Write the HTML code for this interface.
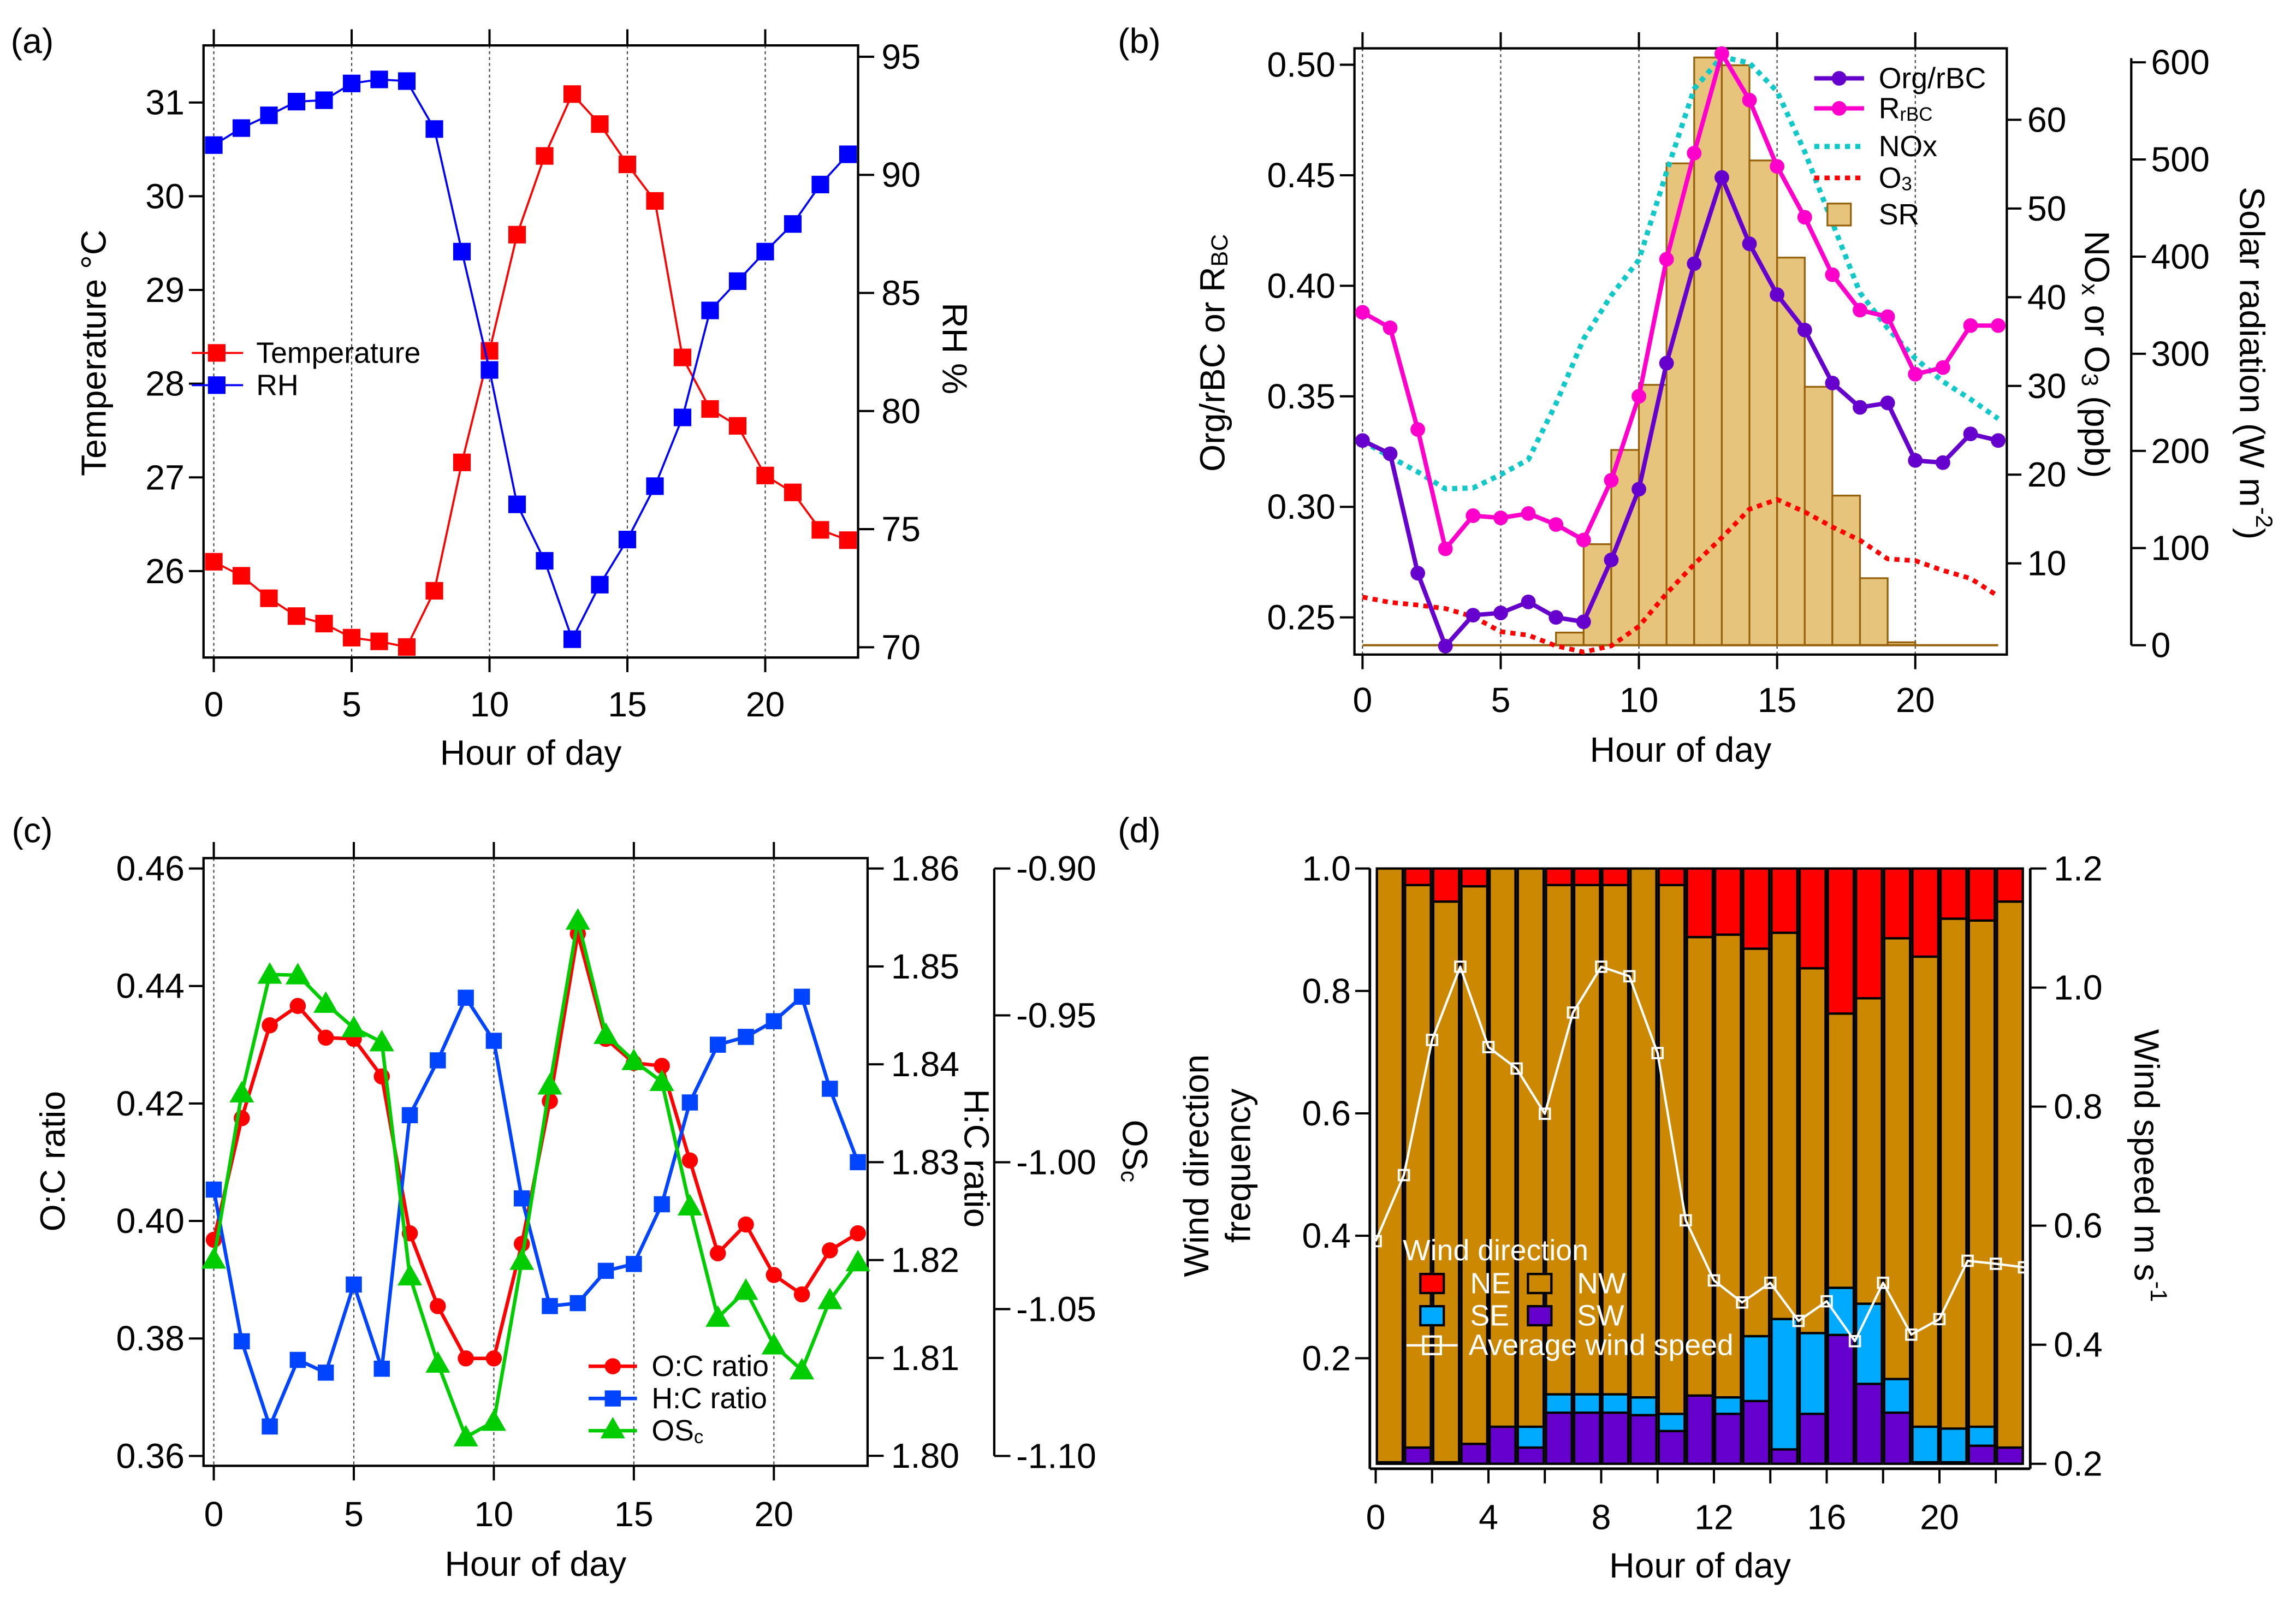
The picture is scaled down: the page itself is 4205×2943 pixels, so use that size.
<!DOCTYPE html>
<html><head><meta charset="utf-8">
<style>
html,body{margin:0;padding:0;background:#fff;}
svg{display:block;}
text{font-family:"Liberation Sans Narrow","Liberation Sans",sans-serif;fill:#000;}
.t{font-size:24px;}
.ti{font-family:"Liberation Sans",sans-serif;font-size:24px;}
.lg{font-size:20px;}
</style></head>
<body>
<svg id="fig" xmlns="http://www.w3.org/2000/svg" width="4205" height="2943" viewBox="0 0 1568 1097.4">
<rect x="0" y="0" width="1568" height="1097.4" fill="#fff"/>
</svg>
<script>
// ---- data ----
const hours = [0,1,2,3,4,5,6,7,8,9,10,11,12,13,14,15,16,17,18,19,20,21,22,23];
const tempC = [26.10,25.95,25.71,25.52,25.44,25.29,25.25,25.19,25.79,27.16,28.35,29.59,30.43,31.09,30.77,30.34,29.95,28.28,27.73,27.55,27.02,26.84,26.44,26.33];
const rhPct = [91.26,91.98,92.52,93.1,93.16,93.87,94.04,93.97,91.94,86.75,81.74,76.05,73.66,70.34,72.65,74.56,76.82,79.73,84.26,85.5,86.75,87.92,89.59,90.87];
const orgRbc = [0.330,0.324,0.270,0.237,0.251,0.252,0.257,0.250,0.248,0.276,0.308,0.365,0.410,0.449,0.419,0.396,0.380,0.356,0.345,0.347,0.321,0.320,0.333,0.330];
const rRbc = [0.388,0.381,0.335,0.281,0.296,0.295,0.297,0.292,0.285,0.312,0.350,0.412,0.460,0.505,0.484,0.454,0.431,0.405,0.389,0.386,0.360,0.363,0.382,0.382];
const noxPpb = [23.8,22.0,20.3,18.4,18.5,20.0,21.7,28.0,35.3,40.2,44.2,54.1,63.5,67.1,66.4,63.2,56.4,48.4,40.5,36.5,33.1,30.5,28.5,26.3];
const o3Ppb = [6.2,5.6,5.3,4.9,4.0,2.3,1.9,0.7,0.0,0.7,2.9,6.6,9.9,12.9,16.1,17.2,15.8,14.1,12.6,10.5,10.3,9.2,8.3,6.3];
const solarRad = [0,0,0,0,0,0,0,13,104,201,268,496,605,597,499,399,266,154,69,3,0,0,0,0];
const ocRatio = [0.3968,0.4175,0.4333,0.4366,0.4312,0.4310,0.4246,0.3979,0.3855,0.3766,0.3766,0.3961,0.4204,0.4489,0.4310,0.4269,0.4264,0.4103,0.3945,0.3994,0.3908,0.3875,0.3950,0.3979];
const hcRatio = [1.8272,1.8117,1.8030,1.8098,1.8085,1.8175,1.8089,1.8348,1.8404,1.8468,1.8424,1.8263,1.8153,1.8156,1.8189,1.8196,1.8257,1.8361,1.8420,1.8428,1.8444,1.8469,1.8375,1.8300];
const osC = [-1.0331,-0.9765,-0.9361,-0.9363,-0.9460,-0.9543,-0.9591,-1.0388,-1.0685,-1.0936,-1.0883,-1.0335,-0.9738,-0.9177,-0.9566,-0.9655,-0.9726,-1.0150,-1.0529,-1.0437,-1.0623,-1.0708,-1.0469,-1.0340];
const windHours = [0,1,2,3,4,5,6,7,8,9,10,11,12,13,14,15,16,17,18,19,20,21,22];
const freqSW = [0.03,0.054,0.03,0.06,0.088,0.054,0.111,0.111,0.111,0.107,0.081,0.139,0.109,0.130,0.051,0.109,0.238,0.158,0.111,0.03,0.03,0.057,0.054];
const freqSE = [0,0,0,0,0,0.034,0.030,0.030,0.030,0.029,0.028,0,0.027,0.106,0.213,0.132,0.077,0.131,0.055,0.058,0.055,0.031,0];
const freqNW = [0.97,0.919,0.916,0.911,0.912,0.912,0.832,0.832,0.832,0.864,0.864,0.749,0.756,0.633,0.631,0.596,0.448,0.499,0.720,0.768,0.833,0.827,0.892];
const freqNE = [0,0.027,0.054,0.029,0,0,0.027,0.027,0.027,0,0.027,0.112,0.108,0.131,0.105,0.163,0.237,0.212,0.114,0.144,0.082,0.085,0.054];
const windSpeed = [0.574,0.685,0.912,1.035,0.900,0.864,0.788,0.958,1.035,1.019,0.890,0.609,0.508,0.471,0.504,0.440,0.473,0.406,0.504,0.417,0.443,0.541,0.536,0.530];
const ticksTemp = [26,27,28,29,30,31];
const ticksRH = [70,75,80,85,90,95];
const ticksHour5 = [0,5,10,15,20];
const ticksOrg = ["0.25","0.30","0.35","0.40","0.45","0.50"];
const ticksNox = [10,20,30,40,50,60];
const ticksSolar = [0,100,200,300,400,500,600];
const ticksOC = ["0.36","0.38","0.40","0.42","0.44","0.46"];
const ticksHC = ["1.80","1.81","1.82","1.83","1.84","1.85","1.86"];
const ticksOS = ["-1.10","-1.05","-1.00","-0.95","-0.90"];
const ticksFreq = ["0.2","0.4","0.6","0.8","1.0"];
const ticksWS = ["0.2","0.4","0.6","0.8","1.0","1.2"];
const ticksHour4 = [0,4,8,12,16,20];

// ---- helpers ----
const NS = "http://www.w3.org/2000/svg";
const svg = document.getElementById("fig");
function mk(tag, attrs, parent){
  const e = document.createElementNS(NS, tag);
  for (const k in attrs) e.setAttribute(k, attrs[k]);
  (parent||svg).appendChild(e);
  return e;
}
function grp(name){
  const g = mk("g", {});
  
  
  return g;
}
function txt(parent, x, y, s, cls, anchor, name, rot){
  const t = mk("text", {x:x, y:y, class:cls, "text-anchor":anchor||"middle", "dominant-baseline":"central"}, parent);
  if (rot) t.setAttribute("transform", "rotate("+rot+" "+x+" "+y+")");
  t.textContent = s;
  
  
  return t;
}
function polyline(parent, pts, stroke, w, dash, name){
  const p = mk("polyline", {points: pts.map(p=>p[0].toFixed(2)+","+p[1].toFixed(2)).join(" "), fill:"none", stroke:stroke, "stroke-width":w, "stroke-linejoin":"round"}, parent);
  if (dash) p.setAttribute("stroke-dasharray", dash);
  
  
  return p;
}
function marker(parent, type, x, y, s, fill, name){
  let m;
  if (type==="sq") m = mk("rect", {x:x-s/2, y:y-s/2, width:s, height:s, fill:fill}, parent);
  else if (type==="ci") m = mk("circle", {cx:x, cy:y, r:s/2, fill:fill}, parent);
  else m = mk("polygon", {points:(x)+","+(y-s*0.6)+" "+(x-s*0.6)+","+(y+s*0.45)+" "+(x+s*0.6)+","+(y+s*0.45), fill:fill}, parent);
  
  
  return m;
}
function line(parent, x1, y1, x2, y2, w, stroke, dash){
  const l = mk("line", {x1:x1, y1:y1, x2:x2, y2:y2, stroke:stroke||"#000", "stroke-width":w||1.3}, parent);
  if (dash) l.setAttribute("stroke-dasharray", dash);
  return l;
}
function box(parent, x1, y1, x2, y2, name){
  const r = mk("rect", {x:x1, y:y1, width:x2-x1, height:y2-y1, fill:"none", stroke:"#000", "stroke-width":1.6}, parent);
  
  
}

// ================= Panel (a) =================
(function(){
  const xA = h => 146 + h*18.83;
  const yT = v => 70 + (31-v)*64;
  const yRH = v => 442 - (v-70)*16.13;
  const L=139, R=586, T=31, B=449;
  const g = grp("panel-a");
  txt(g, 22, 28, "(a)", "ti", "middle", "panel-a-label");
  ticksHour5.forEach(h=>{ line(g, xA(h), T, xA(h), B, 0.8, "#444", "2,2"); });
  box(g, L, T, R, B, "panel-a-plot-area");
  const ax = grp("panel-a-x-axis"); 
  ticksHour5.forEach(h=>{
    line(ax, xA(h), B, xA(h), B+10, 1.5); line(ax, xA(h), T, xA(h), T-11, 1.5);
    txt(ax, xA(h), 481, String(h), "t", "middle", "x-tick-label");
  });
  txt(ax, (L+R)/2, 514, "Hour of day", "t", "middle", "x-axis-title");
  const ay = grp("panel-a-left-axis");
  ticksTemp.forEach(v=>{ line(ay, L-10, yT(v), L, yT(v), 1.5); txt(ay, L-13, yT(v), String(v), "t", "end", "temp-tick-label"); });
  txt(ay, 64, 241, "Temperature °C", "ti", "middle", "temperature-axis-title", -90);
  const ar = grp("panel-a-right-axis");
  ticksRH.forEach(v=>{ line(ar, R, yRH(v), R+11, yRH(v), 1.5); txt(ar, R+16, yRH(v), String(v), "t", "start", "rh-tick-label"); });
  txt(ar, 652, 238, "RH %", "ti", "middle", "rh-axis-title", 90);
  const sT = grp("series-temperature");
  polyline(sT, hours.map((h,i)=>[xA(h), yT(tempC[i])]), "#ff0000", 1.4, null, "temperature-line");
  hours.forEach((h,i)=>marker(sT, "sq", xA(h), yT(tempC[i]), 12, "#ff0000", "temperature-point"));
  const sR = grp("series-rh");
  polyline(sR, hours.map((h,i)=>[xA(h), yRH(rhPct[i])]), "#0000ff", 1.4, null, "rh-line");
  hours.forEach((h,i)=>marker(sR, "sq", xA(h), yRH(rhPct[i]), 12, "#0000ff", "rh-point"));
  const lg = grp("panel-a-legend");
  line(lg, 131, 241, 166, 241, 1.4, "#ff0000"); marker(lg, "sq", 148, 241, 12, "#ff0000", "legend-temperature-marker");
  txt(lg, 175, 241, "Temperature", "lg", "start", "legend-temperature");
  line(lg, 131, 263, 166, 263, 1.4, "#0000ff"); marker(lg, "sq", 148, 263, 12, "#0000ff", "legend-rh-marker");
  txt(lg, 175, 263, "RH", "lg", "start", "legend-rh");
})();

// ================= Panel (b) =================
(function(){
  const xB = h => 930.5 + h*18.875;
  const yL = v => 44.2 + (0.50-v)*1509.6;
  const yN = v => 81.8 + (60-v)*6.058;
  const yS = v => 440.6 - v*0.6634;
  const L=925, R=1370.5, T=33, B=447;
  const g = grp("panel-b");
  txt(g, 778, 28, "(b)", "ti", "middle", "panel-b-label");
  ticksHour5.forEach(h=>{ line(g, xB(h), T, xB(h), B, 0.8, "#444", "2,2"); });
  const bars = grp("series-solar-radiation");
  hours.forEach((h,i)=>{
    if (solarRad[i] <= 0) return;
    const r = mk("rect", {x:xB(h), y:yS(solarRad[i]), width:18.875, height:yS(0)-yS(solarRad[i]), fill:"#e6c47c", stroke:"#96610a", "stroke-width":1.2}, bars);
    
    
  });
  line(bars, xB(0), yS(0), xB(23), yS(0), 1.5, "#96610a");
  const sN = grp("series-nox");
  polyline(sN, hours.map((h,i)=>[xB(h), yN(noxPpb[i])]), "#11c8c8", 3.5, "3.5,3.5", "nox-line");
  const sO = grp("series-o3");
  polyline(sO, hours.map((h,i)=>[xB(h), yN(o3Ppb[i])]), "#ff0000", 3.2, "3.5,3.5", "o3-line");
  const sR = grp("series-rrbc");
  polyline(sR, hours.map((h,i)=>[xB(h), yL(rRbc[i])]), "#ff00cc", 3, null, "rrbc-line");
  hours.forEach((h,i)=>marker(sR, "ci", xB(h), yL(rRbc[i]), 10, "#ff00cc", "rrbc-point"));
  const sP = grp("series-org-rbc");
  polyline(sP, hours.map((h,i)=>[xB(h), yL(orgRbc[i])]), "#6600cc", 3, null, "org-rbc-line");
  hours.forEach((h,i)=>marker(sP, "ci", xB(h), yL(orgRbc[i]), 10, "#6600cc", "org-rbc-point"));
  box(g, L, T, R, B, "panel-b-plot-area");
  const ax = grp("panel-b-x-axis");
  ticksHour5.forEach(h=>{
    line(ax, xB(h), B, xB(h), B+10, 1.5); line(ax, xB(h), T, xB(h), T-11, 1.5);
    txt(ax, xB(h), 478, String(h), "t", "middle", "x-tick-label");
  });
  txt(ax, (L+R)/2, 512, "Hour of day", "t", "middle", "x-axis-title");
  const ay = grp("panel-b-left-axis");
  ticksOrg.forEach(s=>{ const v=parseFloat(s); line(ay, L-10, yL(v), L, yL(v), 1.5); txt(ay, L-13, yL(v), s, "t", "end", "org-tick-label"); });
  const tl = txt(ay, 828, 241, "", "ti", "middle", "org-rbc-axis-title", -90);
  tl.innerHTML = 'Org/rBC or R<tspan font-size="16" dy="5">BC</tspan>';
  const am = grp("panel-b-nox-axis");
  ticksNox.forEach(v=>{ line(am, R, yN(v), R+10, yN(v), 1.5); txt(am, R+14, yN(v), String(v), "t", "start", "nox-tick-label"); });
  const tn = txt(am, 1432, 242, "", "ti", "middle", "nox-o3-axis-title", 90);
  tn.innerHTML = 'NO<tspan font-size="16" dy="5">x</tspan><tspan dy="-5"> or O</tspan><tspan font-size="16" dy="5">3</tspan><tspan dy="-5"> (ppb)</tspan>';
  const as = grp("panel-b-solar-axis");
  line(as, 1455.5, 39.7, 1455.5, 440.6, 1.6);
  ticksSolar.forEach(v=>{ line(as, 1455.5, yS(v), 1465.5, yS(v), 1.5); txt(as, 1469, yS(v), String(v), "t", "start", "solar-tick-label"); });
  const ts = txt(as, 1538, 248, "", "ti", "middle", "solar-axis-title", 90);
  ts.innerHTML = 'Solar radiation (W m<tspan font-size="16" dy="-8">-2</tspan><tspan dy="8">)</tspan>';
  const lg = grp("panel-b-legend");
  line(lg, 1239, 53.5, 1273, 53.5, 3, "#6600cc"); marker(lg, "ci", 1256, 53.5, 10, "#6600cc", "legend-org-marker");
  txt(lg, 1283, 53.5, "Org/rBC", "lg", "start", "legend-org-rbc");
  line(lg, 1239, 74, 1273, 74, 3, "#ff00cc"); marker(lg, "ci", 1256, 74, 10, "#ff00cc", "legend-rrbc-marker");
  const t2 = txt(lg, 1283, 74, "", "lg", "start", "legend-rrbc"); t2.innerHTML = 'R<tspan font-size="13" dy="4">rBC</tspan>';
  line(lg, 1239, 100, 1273, 100, 3.5, "#11c8c8", "3.5,3.5");
  txt(lg, 1283, 100, "NOx", "lg", "start", "legend-nox");
  line(lg, 1239, 121.5, 1273, 121.5, 3.2, "#ff0000", "3.5,3.5");
  const t3 = txt(lg, 1283, 121.5, "", "lg", "start", "legend-o3"); t3.innerHTML = 'O<tspan font-size="13" dy="4">3</tspan>';
  const sw = mk("rect", {x:1248, y:139, width:16, height:15, fill:"#e6c47c", stroke:"#96610a", "stroke-width":1.2}, lg);
  
  
  txt(lg, 1283, 146.5, "SR", "lg", "start", "legend-sr");
})();

// ================= Panel (c) =================
(function(){
  const xC = h => 146 + h*19.125;
  const yOC = v => 593.1 + (0.46-v)*4011.5;
  const yHC = v => 593.1 + (1.86-v)*6684.6;
  const yOS = v => 593.1 + (-0.90-v)*2005.8;
  const L=139, R=592.5, T=586, B=1001;
  const g = grp("panel-c");
  txt(g, 22, 567, "(c)", "ti", "middle", "panel-c-label");
  ticksHour5.forEach(h=>{ line(g, xC(h), T, xC(h), B, 0.8, "#444", "2,2"); });
  box(g, L, T, R, B, "panel-c-plot-area");
  const ax = grp("panel-c-x-axis");
  ticksHour5.forEach(h=>{
    line(ax, xC(h), B, xC(h), B+10, 1.5); line(ax, xC(h), T, xC(h), T-11, 1.5);
    txt(ax, xC(h), 1034, String(h), "t", "middle", "x-tick-label");
  });
  txt(ax, (L+R)/2, 1068, "Hour of day", "t", "middle", "x-axis-title");
  const ay = grp("panel-c-left-axis");
  ticksOC.forEach(s=>{ const v=parseFloat(s); line(ay, L-10, yOC(v), L, yOC(v), 1.5); txt(ay, L-13, yOC(v), s, "t", "end", "oc-tick-label"); });
  txt(ay, 36, 793, "O:C ratio", "ti", "middle", "oc-axis-title", -90);
  const ah = grp("panel-c-hc-axis");
  ticksHC.forEach(s=>{ const v=parseFloat(s); line(ah, R, yHC(v), R+11, yHC(v), 1.5); txt(ah, R+16, yHC(v), s, "t", "start", "hc-tick-label"); });
  txt(ah, 667, 791, "H:C ratio", "ti", "middle", "hc-axis-title", 90);
  const ao = grp("panel-c-os-axis");
  line(ao, 679, yOS(-0.90), 679, yOS(-1.10), 1.6);
  ticksOS.forEach(s=>{ const v=parseFloat(s); line(ao, 679, yOS(v), 690, yOS(v), 1.5); txt(ao, 694, yOS(v), s, "t", "start", "os-tick-label"); });
  const to = txt(ao, 775, 786, "", "ti", "middle", "os-axis-title", 90);
  to.innerHTML = 'OS<tspan font-size="16" dy="4">c</tspan>';
  const sO = grp("series-oc");
  polyline(sO, hours.map((h,i)=>[xC(h), yOC(ocRatio[i])]), "#ff0000", 2.4, null, "oc-line");
  hours.forEach((h,i)=>marker(sO, "ci", xC(h), yOC(ocRatio[i]), 11, "#ff0000", "oc-point"));
  const sH = grp("series-hc");
  polyline(sH, hours.map((h,i)=>[xC(h), yHC(hcRatio[i])]), "#0044ff", 2.4, null, "hc-line");
  hours.forEach((h,i)=>marker(sH, "sq", xC(h), yHC(hcRatio[i]), 11, "#0044ff", "hc-point"));
  const sG = grp("series-osc");
  polyline(sG, hours.map((h,i)=>[xC(h), yOS(osC[i])]), "#00cc00", 2.4, null, "osc-line");
  hours.forEach((h,i)=>marker(sG, "tri", xC(h), yOS(osC[i]), 14, "#00cc00", "osc-point"));
  const lg = grp("panel-c-legend");
  line(lg, 402, 933, 435, 933, 2.4, "#ff0000"); marker(lg, "ci", 418.5, 933, 11, "#ff0000", "legend-oc-marker");
  txt(lg, 445, 933, "O:C ratio", "lg", "start", "legend-oc");
  line(lg, 402, 955, 435, 955, 2.4, "#0044ff"); marker(lg, "sq", 418.5, 955, 11, "#0044ff", "legend-hc-marker");
  txt(lg, 445, 955, "H:C ratio", "lg", "start", "legend-hc");
  line(lg, 402, 977, 435, 977, 2.4, "#00cc00"); marker(lg, "tri", 418.5, 976, 14, "#00cc00", "legend-osc-marker");
  const tg = txt(lg, 445, 977, "", "lg", "start", "legend-osc"); tg.innerHTML = 'OS<tspan font-size="13" dy="4">c</tspan>';
})();

// ================= Panel (d) =================
(function(){
  const xD = h => 939.5 + h*19.25;
  const yF = v => 593.1 + (1-v)*418;
  const yW = v => 593.1 + (1.2-v)*406.5;
  const L=935.5, R=1386.5, B=1003, base=999.6;
  const g = grp("panel-d");
  txt(g, 778, 567, "(d)", "ti", "middle", "panel-d-label");
  const bars = grp("series-wind-direction-bars");
  const bw = 19.25;
  windHours.forEach((h,i)=>{
    const c1 = freqSW[i], c2 = c1+freqSE[i], c3 = c2+freqNW[i], c4 = c3+freqNE[i];
    const segs = [[0,c1,"#6600cc","bar-sw"],[c1,c2,"#00aaff","bar-se"],[c2,c3,"#cc8800","bar-nw"],[c3,c4,"#ff0000","bar-ne"]];
    segs.forEach(s=>{
      const y0 = Math.min(base, yF(s[0])), y1 = Math.min(base, yF(s[1]));
      if (y0 - y1 <= 0.1) return;
      const r = mk("rect", {x:xD(h)+0.8, y:y1, width:bw-1.6, height:y0-y1, fill:s[2], stroke:"#000", "stroke-width":1.6}, bars);
      
      
    });
  });
  const sW = grp("series-wind-speed");
  polyline(sW, hours.map((h,i)=>[xD(h), yW(windSpeed[i])]), "#ffffff", 1.6, null, "wind-speed-line");
  hours.forEach((h,i)=>{
    const m = mk("rect", {x:xD(h)-3.5, y:yW(windSpeed[i])-3.5, width:7, height:7, fill:"none", stroke:"#fff", "stroke-width":1.4}, sW);
    
    
  });
  const ax = grp("panel-d-axes");
  line(ax, L, 593, L, B, 1.8); line(ax, L, B, R, B, 1.8); line(ax, R, 593, R, B, 1.8);
  [0,2,4,6,8,10,12,14,16,18,20,22].forEach(h=>{ line(ax, xD(h), B, xD(h), B+10, 1.5); });
  ticksHour4.forEach(h=>{ txt(ax, xD(h), 1036, String(h), "t", "middle", "x-tick-label"); });
  txt(ax, (L+R)/2, 1069, "Hour of day", "t", "middle", "x-axis-title");
  ticksFreq.forEach(s=>{ const v=parseFloat(s); line(ax, L-10, yF(v), L, yF(v), 1.5); txt(ax, L-13, yF(v), s, "t", "end", "freq-tick-label"); });
  txt(ax, 817, 796, "Wind direction", "ti", "middle", "freq-axis-title-line1", -90);
  txt(ax, 845.5, 796, "frequency", "ti", "middle", "freq-axis-title-line2", -90);
  ticksWS.forEach(s=>{ const v=parseFloat(s); line(ax, R, yW(v), R+11, yW(v), 1.5); txt(ax, R+16, yW(v), s, "t", "start", "ws-tick-label"); });
  const tw = txt(ax, 1466, 796, "", "ti", "middle", "wind-speed-axis-title", 90);
  tw.innerHTML = 'Wind speed m s<tspan font-size="16" dy="-8">-1</tspan>';
  const lg = grp("panel-d-legend");
  const lt = txt(lg, 958, 854, "Wind direction", "lg", "start", "legend-title"); lt.style.fill="#fff";
  const sws = [[970,870,"#ff0000","NE",1004],[1043.5,870,"#cc8800","NW",1077],[970,892,"#00aaff","SE",1004],[1043.5,892,"#6600cc","SW",1077]];
  sws.forEach(s=>{
    const r = mk("rect", {x:s[0], y:s[1], width:16, height:13, fill:s[2], stroke:"#000", "stroke-width":1.6}, lg);
    
    
    const t = txt(lg, s[4], s[1]+6.5, s[3], "lg", "start", "legend-"+s[3].toLowerCase());
    t.style.fill = "#fff";
  });
  line(lg, 960.5, 918.7, 995.5, 918.7, 1.6, "#fff");
  const ms = mk("rect", {x:972, y:912.7, width:12, height:12, fill:"none", stroke:"#fff", "stroke-width":1.6}, lg);
  
  
  const tt = txt(lg, 1003, 918.7, "Average wind speed", "lg", "start", "legend-wind-speed"); tt.style.fill="#fff";
})();
</script>
</body></html>
